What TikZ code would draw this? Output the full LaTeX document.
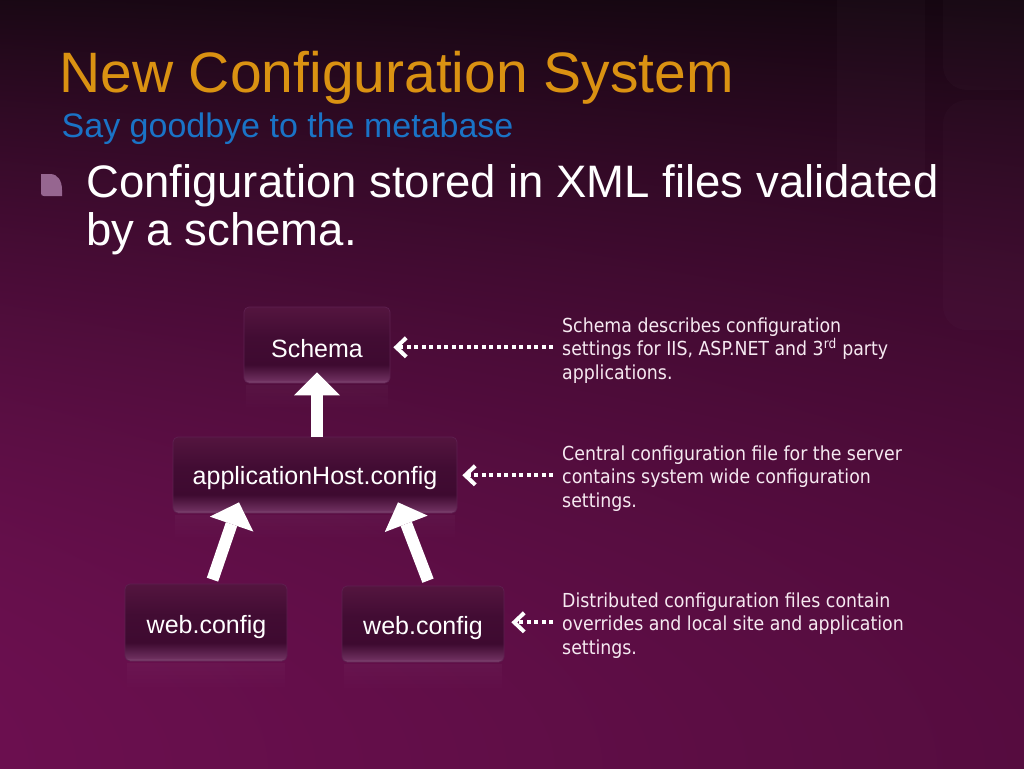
\documentclass[tikz,border=0pt]{standalone}
\usepackage{fontspec}
\setmainfont{Liberation Sans}
\newfontfamily\descfont{DejaVu Sans Condensed}
\usetikzlibrary{arrows.meta,calc,fadings}

\definecolor{titleorange}{HTML}{DA9212}
\definecolor{subblue}{HTML}{1A73C6}
\definecolor{desctext}{HTML}{F6E9F1}
\definecolor{boxedge}{HTML}{5E2050}
\definecolor{bulletc}{HTML}{966690}
\definecolor{bxa}{HTML}{86507A}
\definecolor{bxb}{HTML}{6C2E5D}
\definecolor{bxc}{HTML}{3E0A30}
\definecolor{bxd}{HTML}{420C33}
\definecolor{bxe}{HTML}{54153F}

\pgfdeclarefunctionalshading{slidebg}{\pgfpoint{0bp}{0bp}}{\pgfpoint{100bp}{100bp}}{}{
 exch 25 sub 50 div 0.2 mul 1 exch sub
 exch 75 exch sub 50 div
 dup 2 exch sub mul
 dup 0.32 mul 0.10 add 2 index mul
 exch
 dup 0.03 mul 0.03 add 3 index mul
 exch 0.23 mul 0.08 add 3 index mul
 4 -1 roll pop
}

\pgfdeclareverticalshading{boxshade}{100bp}{color(0bp)=(bxa); color(25bp)=(bxa);
  color(27bp)=(bxb); color(37bp)=(bxc); color(55bp)=(bxd); color(75bp)=(bxe); color(100bp)=(bxe)}

\tikzfading[name=reflfade, top color=transparent!50, bottom color=transparent!100]

\begin{document}
\begin{tikzpicture}[x=1pt,y=-1pt,
  cfgbox/.style={rounded corners=5pt, draw=boxedge, line width=0.7pt,
    shading=boxshade, inner sep=0pt},
  boxlabel/.style={anchor=base, inner sep=0pt, text=white, font=\fontsize{25}{28}\selectfont},
  desc/.style={anchor=west, inner sep=0pt, align=left, text=desctext,
    font=\descfont\fontsize{19.3}{23.5}\selectfont},
  bigarrow/.style={white, line width=12pt,
    -{Triangle[width=46pt,length=23pt,line width=0pt]}},
  dotarrow/.style={white, line width=4pt, dash pattern=on 4pt off 3.5pt,
    -{Straight Barb[length=10pt,width=19pt,line width=4pt]}},
  refl/.style={fill=white, opacity=0.06, path fading=reflfade}
]
\useasboundingbox (0,0) rectangle (1024,768);
\shade[shading=slidebg] (0,0) rectangle (1024,768);

% faint decorative squares
\fill[white, opacity=0.018, rounded corners=24pt] (837,-40) rectangle (925,195);
\fill[white, opacity=0.018, rounded corners=24pt] (943,-40) rectangle (1070,90);
\fill[white, opacity=0.014, rounded corners=24pt] (943,100) rectangle (1070,330);

% titles
\node[anchor=base west, inner sep=0pt, text=titleorange, font=\fontsize{57}{60}\selectfont] (title) at (59,92) {New Configuration System};
\node[anchor=base west, inner sep=0pt, text=subblue, font=\fontsize{34}{36}\selectfont] (subtitle) at (61.5,137) {Say goodbye to the metabase};

% bullet
\fill[bulletc] (41,174) -- (50,174) .. controls (58,174) and (62,181) .. (62,190) -- (62,196) -- (44,196) .. controls (42,196) and (41,195) .. (41,193) -- cycle;
\node[anchor=west, inner sep=0pt, align=left, text=white, font=\fontsize{45.5}{48}\selectfont] (bullettext) at (86,209.4) {Configuration stored in XML files validated\\by a schema.};

% reflections
\fill[refl] (246,385) rectangle (388,412);
\fill[refl] (175,515) rectangle (455,542);
\fill[refl] (127,663) rectangle (285,692);
\fill[refl] (344,664) rectangle (502,693);

% boxes
\node[cfgbox, minimum width=146pt, minimum height=76pt] (schema) at (317,345) {};
\node[cfgbox, minimum width=284pt, minimum height=76pt] (apphost) at (315,475) {};
\node[cfgbox, minimum width=162pt, minimum height=77pt] (web1) at (206,622.5) {};
\node[cfgbox, minimum width=162pt, minimum height=76pt] (web2) at (423,624) {};

\node[boxlabel] (schemaT) at (317,357) {Schema};
\node[boxlabel] (apphostT) at (315,484) {applicationHost.config};
\node[boxlabel] (web1T) at (206.5,633) {web.config};
\node[boxlabel] (web2T) at (423,634) {web.config};

% block arrows
\draw[bigarrow] (apphost.north -| schema.south) -- ([yshift=11pt]schema.south);
\draw[bigarrow] ([xshift=6.5pt,yshift=4pt]web1.north) -- ([xshift=-76pt,yshift=11pt]apphost.south);
\draw[bigarrow] ([xshift=5pt,yshift=5pt]web2.north) -- ([xshift=83pt,yshift=11pt]apphost.south);

% descriptions
\node[desc] (desc1) at (562,350.3) {Schema describes configuration\\settings for IIS, ASP.NET and 3\textsuperscript{rd} party\\applications.};
\node[desc] (desc2) at (562,478.3) {Central configuration file for the server\\contains system wide configuration\\settings.};
\node[desc] (desc3) at (562,625.3) {Distributed configuration files contain\\overrides and local site and application\\settings.};

% dotted arrows
\coordinate (e1) at ([xshift=3pt]schema.east);
\coordinate (e2) at ([xshift=5pt]apphost.east);
\coordinate (e3) at ([xshift=7pt]web2.east);
\draw[dotarrow] ([xshift=-9pt,yshift=3pt]desc1.west) coordinate (s1) -- (s1 -| e1);
\draw[dotarrow] ([xshift=-9pt,yshift=3pt]desc2.west) coordinate (s2) -- (s2 -| e2);
\draw[dotarrow] ([xshift=-9pt,yshift=3pt]desc3.west) coordinate (s3) -- (s3 -| e3);
\end{tikzpicture}
\end{document}
